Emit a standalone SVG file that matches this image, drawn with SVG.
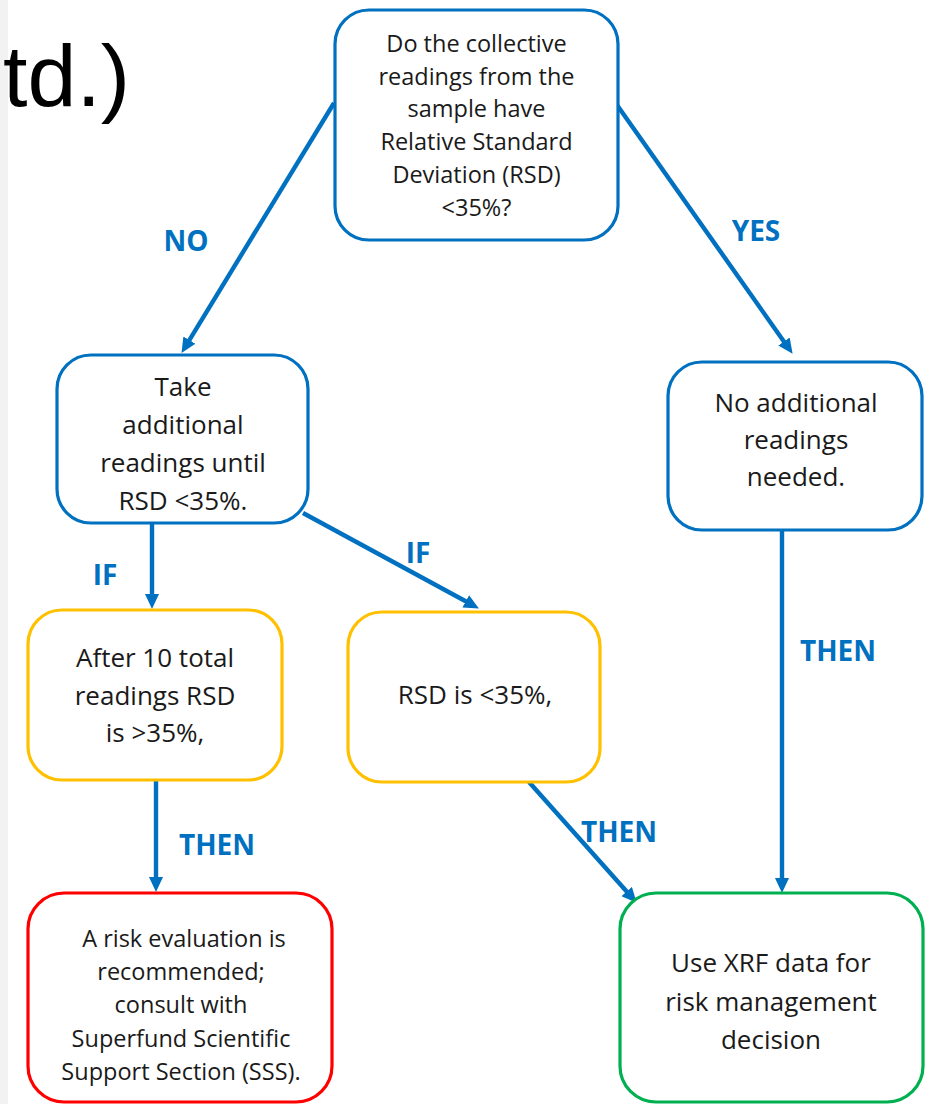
<svg xmlns="http://www.w3.org/2000/svg" width="938" height="1104" viewBox="0 0 938 1104">
<defs>
<style>
.box{fill:#fff;stroke-width:3.2}
.b{stroke:#0070c0}.y{stroke:#ffc000}.r{stroke:#ff0000}.g{stroke:#00b050}
.t{font-family:"Open Sans","Noto Sans",sans-serif;fill:#1a1a1a;text-anchor:middle}
.s{font-size:23.5px}.m{font-size:26px}
.lbl{font-family:"Open Sans","Noto Sans",sans-serif;font-weight:bold;font-size:28px;fill:#0070c0;text-anchor:middle}
.c{stroke:#0070c0;stroke-width:4.4;fill:none;marker-end:url(#ah)}
</style>
<marker id="ah" markerUnits="userSpaceOnUse" markerWidth="16" markerHeight="14" refX="2" refY="7" orient="auto">
<path d="M0,0 L15,7 L0,14 z" fill="#0070c0"/>
</marker>
</defs>
<rect x="0" y="0" width="938" height="1104" fill="#fff"/>
<rect x="0" y="0" width="8" height="1104" fill="#f2f2f2"/>
<text x="3" y="106" font-family="Liberation Sans, Arial, sans-serif" font-size="88" fill="#000">td.)</text>

<g id="connectors">
<path class="c" d="M334,103 L188.3,341.8"/>
<path class="c" d="M617,105 L785.1,343.2"/>
<path class="c" d="M152,523 L152,596"/>
<path class="c" d="M303,513 L467.5,602.3"/>
<path class="c" d="M156,780 L156,879"/>
<path class="c" d="M529,782 L628,893"/>
<path class="c" d="M782,530 L782,880"/>
<text class="lbl" x="186" y="251">NO</text>
<text class="lbl" x="756" y="241">YES</text>
<text class="lbl" x="105" y="585">IF</text>
<text class="lbl" x="418" y="563">IF</text>
<text class="lbl" x="217" y="855">THEN</text>
<text class="lbl" x="619" y="842">THEN</text>
<text class="lbl" x="838" y="661">THEN</text>
</g>

<g id="q">
<rect class="box b" x="335" y="10" width="283" height="230" rx="34"/>
<text class="t s" x="476.5" y="51.5">Do the collective</text>
<text class="t s" x="476.5" y="84.5">readings from the</text>
<text class="t s" x="476.5" y="117">sample have</text>
<text class="t s" x="476.5" y="150">Relative Standard</text>
<text class="t s" x="476.5" y="183">Deviation (RSD)</text>
<text class="t s" x="476.5" y="216">&lt;35%?</text>
</g>

<g id="take">
<rect class="box b" x="57" y="355" width="251" height="168" rx="34"/>
<text class="t m" x="183" y="395.5">Take</text>
<text class="t m" x="183" y="434">additional</text>
<text class="t m" x="183" y="472">readings until</text>
<text class="t m" x="183" y="510">RSD &lt;35%.</text>
</g>

<g id="noadd">
<rect class="box b" x="668" y="362" width="254" height="168" rx="34"/>
<text class="t m" x="796" y="412">No additional</text>
<text class="t m" x="796" y="449">readings</text>
<text class="t m" x="796" y="486">needed.</text>
</g>

<g id="after10">
<rect class="box y" x="28" y="610" width="254" height="170" rx="34"/>
<text class="t m" x="155" y="666.5">After 10 total</text>
<text class="t m" x="155" y="705">readings RSD</text>
<text class="t m" x="155" y="742">is &gt;35%,</text>
</g>

<g id="rsdok">
<rect class="box y" x="348" y="612" width="252" height="170" rx="34"/>
<text class="t m" x="475" y="704">RSD is &lt;35%,</text>
</g>

<g id="risk">
<rect class="box r" x="28" y="893" width="304" height="209" rx="36"/>
<text class="t s" x="184" y="946.5">A risk evaluation is</text>
<text class="t s" x="181" y="979.5">recommended;</text>
<text class="t s" x="181" y="1013">consult with</text>
<text class="t s" x="181" y="1046.5">Superfund Scientific</text>
<text class="t s" x="181" y="1079.5">Support Section (SSS).</text>
</g>

<g id="use">
<rect class="box g" x="620" y="893" width="303" height="209" rx="36"/>
<text class="t m" x="771" y="972">Use XRF data for</text>
<text class="t m" x="771" y="1011">risk management</text>
<text class="t m" x="771" y="1049">decision</text>
</g>
</svg>
